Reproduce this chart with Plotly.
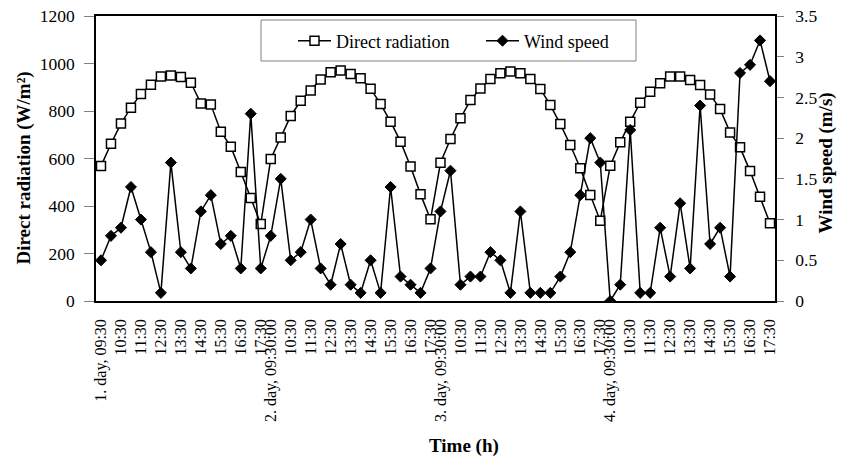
import plotly.graph_objects as go

# ---------------- data ----------------
days = ["1. day", "2. day", "3. day", "4. day"]
times = ["09:30", "10:00", "10:30", "11:00", "11:30", "12:00", "12:30", "13:00", "13:30",
         "14:00", "14:30", "15:00", "15:30", "16:00", "16:30", "17:00", "17:30"]
day_first_labels = ["1. day, 09:30", "2. day, 09:30:00", "3. day, 09:30:00", "4. day, 09:30:00"]

direct_radiation = [
    568, 662, 747, 814, 872, 911, 945, 950, 943, 919, 832, 827, 713, 650, 543, 434, 324,
    598, 688, 779, 843, 886, 933, 963, 971, 956, 938, 894, 829, 755, 671, 566, 449, 344,
    582, 682, 769, 846, 895, 935, 959, 966, 959, 935, 893, 825, 745, 657, 559, 446, 338,
    570, 668, 755, 835, 881, 917, 945, 945, 931, 909, 870, 808, 710, 647, 547, 439, 327,
]
wind_speed = [
    0.5, 0.8, 0.9, 1.4, 1.0, 0.6, 0.1, 1.7, 0.6, 0.4, 1.1, 1.3, 0.7, 0.8, 0.4, 2.3, 0.4,
    0.8, 1.5, 0.5, 0.6, 1.0, 0.4, 0.2, 0.7, 0.2, 0.1, 0.5, 0.1, 1.4, 0.3, 0.2, 0.1, 0.4,
    1.1, 1.6, 0.2, 0.3, 0.3, 0.6, 0.5, 0.1, 1.1, 0.1, 0.1, 0.1, 0.3, 0.6, 1.3, 2.0, 1.7,
    0.0, 0.2, 2.1, 0.1, 0.1, 0.9, 0.3, 1.2, 0.4, 2.4, 0.7, 0.9, 0.3, 2.8, 2.9, 3.2, 2.7,
]

# category index positions
categories = [f"{d} {t}" for d in days for t in times]
x = list(range(len(categories)))

# tick labels (every full-hour :30 mark)
tickvals, ticktext = [], []
for di in range(len(days)):
    for ti, t in enumerate(times):
        if ti % 2 == 0:
            tickvals.append(di * len(times) + ti)
            ticktext.append(day_first_labels[di] if ti == 0 else t)
boundaries = [i - 0.5 for i in range(len(categories) + 1)]

FONT = "Liberation Serif"
GREY = "#808080"
n = len(categories)

PAGE_W, PAGE_H = 852, 459
# plot area in page pixels
L, R, T, B = 96, 775, 16, 301
W, H = R - L, B - T


def px(xp):
    return (xp - L) / W


def py(yp):
    return (B - yp) / H


fig = go.Figure()
fig.add_trace(go.Scatter(
    x=x, y=direct_radiation, name="Direct radiation", mode="lines+markers",
    line=dict(color="black", width=1.5),
    marker=dict(symbol="square", size=9, color="white", line=dict(color="black", width=1.5)),
    yaxis="y", xaxis="x",
))
fig.add_trace(go.Scatter(
    x=x, y=wind_speed, name="Wind speed", mode="lines+markers",
    line=dict(color="black", width=1.5),
    marker=dict(symbol="diamond", size=8.5, color="black", line=dict(color="black", width=1)),
    yaxis="y2", xaxis="x",
))

common_hidden = dict(showticklabels=False, showline=False, showgrid=False,
                     zeroline=False, automargin=False)

fig.update_layout(
    width=PAGE_W, height=PAGE_H,
    margin=dict(l=L, r=PAGE_W - R, t=T, b=PAGE_H - B, autoexpand=False),
    paper_bgcolor="white", plot_bgcolor="white",
    font=dict(family=FONT, color="black"),
    showlegend=True,
    legend=dict(
        orientation="h", x=px(293), y=py(41), xanchor="left", yanchor="middle",
        bgcolor="rgba(0,0,0,0)", borderwidth=0,
        font=dict(family=FONT, size=18, color="black"),
        itemwidth=33, entrywidth=140,
    ),
    shapes=[dict(type="rect", xref="paper", yref="paper",
                 x0=px(261), x1=px(636), y0=py(61), y1=py(20),
                 line=dict(color=GREY, width=1), fillcolor="white", layer="above")],
    xaxis=dict(
        range=[-0.5, n - 0.5], tickmode="array", tickvals=tickvals, ticktext=ticktext,
        tickangle=-90, ticks="", ticklabelstandoff=10,
        tickfont=dict(family=FONT, size=16, color="black"),
        showline=True, linecolor="black", linewidth=1.5, mirror=True,
        showgrid=False, zeroline=False, automargin=False,
    ),
    xaxis2=dict(
        overlaying="x", anchor="y", side="bottom", range=[-0.5, n - 0.5],
        tickmode="array", tickvals=boundaries, ticks="outside", ticklen=4,
        tickcolor=GREY, tickwidth=1, **common_hidden,
    ),
    xaxis3=dict(
        overlaying="x", anchor="y", side="bottom", range=[-0.5, n - 0.5],
        tickmode="array", tickvals=boundaries, ticks="inside", ticklen=5,
        tickcolor=GREY, tickwidth=1, **common_hidden,
    ),
    yaxis=dict(
        range=[0, 1200], tickmode="linear", tick0=0, dtick=200,
        ticks="outside", ticklen=10, tickcolor=GREY, tickwidth=1, ticklabelstandoff=6,
        ticklabeloverflow="allow",
        tickfont=dict(family=FONT, size=17.5, color="black"),
        showline=True, linecolor="black", linewidth=1.5, mirror=True,
        showgrid=False, zeroline=False, automargin=False,
    ),
    yaxis2=dict(
        overlaying="y", side="right", anchor="x", range=[0, 3.5],
        tickmode="array", tickvals=[0, 0.5, 1, 1.5, 2, 2.5, 3, 3.5],
        ticktext=["0", "0.5", "1", "1.5", "2", "2.5", "3", "3.5"],
        ticks="outside", ticklen=7, tickcolor=GREY, tickwidth=1, ticklabelstandoff=8,
        ticklabeloverflow="allow",
        tickfont=dict(family=FONT, size=17.5, color="black"),
        showline=True, linecolor="black", linewidth=1.5,
        showgrid=False, zeroline=False, automargin=False,
    ),
    yaxis3=dict(
        overlaying="y", side="left", anchor="x", range=[0, 1200],
        tickmode="linear", tick0=0, dtick=200, ticks="inside", ticklen=6,
        tickcolor=GREY, tickwidth=1, **common_hidden,
    ),
    yaxis4=dict(
        overlaying="y", side="right", anchor="x", range=[0, 3.5],
        tickmode="linear", tick0=0, dtick=0.5, ticks="inside", ticklen=7,
        tickcolor=GREY, tickwidth=1, **common_hidden,
    ),
    annotations=[
        dict(text="<b>Direct radiation (W/m²)</b>", xref="paper", yref="paper",
             x=px(23.5), y=py(168), textangle=-90,
             showarrow=False, xanchor="center", yanchor="middle",
             font=dict(family=FONT, size=19, color="black")),
        dict(text="<b>Wind speed (m/s)</b>", xref="paper", yref="paper",
             x=px(825), y=py(163.5), textangle=-90,
             showarrow=False, xanchor="center", yanchor="middle",
             font=dict(family=FONT, size=19, color="black")),
        dict(text="<b>Time (h)</b>", xref="paper", yref="paper",
             x=px(463.5), y=py(446),
             showarrow=False, xanchor="center", yanchor="middle",
             font=dict(family=FONT, size=19, color="black")),
    ],
)

# remove the default 8px page margin so the figure fills the window exactly
fig.write_html("out.html", config={"displayModeBar": False},
               post_script="document.body.style.margin='0px';")
